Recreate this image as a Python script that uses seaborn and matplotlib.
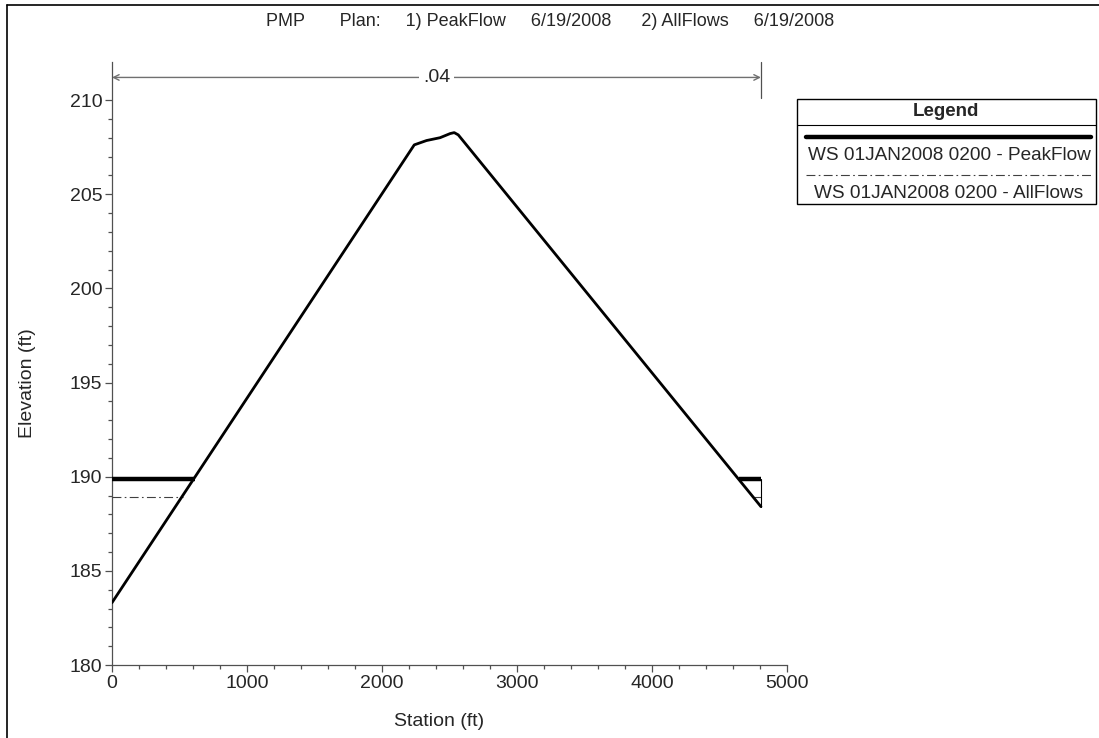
import matplotlib
matplotlib.use("Agg")
import matplotlib.pyplot as plt
from matplotlib.lines import Line2D
from matplotlib.patches import Rectangle
import seaborn as sns
import pandas as pd

# ground profile of the cross section
station = [0, 2239, 2330, 2430, 2505, 2535, 2565, 4807]
elevation = [183.31, 207.62, 207.85, 208.0, 208.22, 208.27, 208.15, 188.41]

# water surfaces (elevation and wetted station ranges)
ws_peak = 189.86
ws_peak_ranges = [(0, 615), (4643, 4807)]
ws_all = 188.92
ws_all_ranges = [(0, 527), (4750, 4807)]

n_value = ".04"
n_range = (0, 4807)

title = "PMP       Plan:     1) PeakFlow     6/19/2008      2) AllFlows     6/19/2008"
legend_labels = ["WS 01JAN2008 0200 - PeakFlow", "WS 01JAN2008 0200 - AllFlows"]

sns.set_style("ticks")
plt.rcParams["font.family"] = ["Liberation Sans", "DejaVu Sans"]

W, H = 1099, 738
fig = plt.figure(figsize=(W / 100, H / 100), dpi=100)
ax = fig.add_axes([112 / W, (H - 665) / H, 675 / W, (665 - 62) / H])

def px(x, y):
    return x / W, 1 - y / H

ground = pd.DataFrame({"Station": station, "Elevation": elevation})
sns.lineplot(data=ground, x="Station", y="Elevation", color="black", lw=2.0,
             ax=ax, sort=False, zorder=4)

for a, b in ws_peak_ranges:
    ax.plot([a, b], [ws_peak, ws_peak], color="black", lw=3.2, solid_capstyle="butt", zorder=5)
for a, b in ws_all_ranges:
    ax.plot([a, b], [ws_all, ws_all], color="#404040", lw=0.8, dashes=(8, 3, 1.5, 3), zorder=3)

# end wall of the section
ax.plot([station[-1], station[-1]], [elevation[-1], ws_peak], color="black", lw=0.8, zorder=3)

# Manning's n annotation
ax.annotate("", xy=(n_range[0], 211.2), xytext=(n_range[1], 211.2),
            arrowprops=dict(arrowstyle="<->", color="#707070", lw=1.0,
                            shrinkA=0, shrinkB=0, mutation_scale=10))
ax.text((n_range[0] + n_range[1]) / 2, 211.2, n_value, ha="center", va="center",
        fontsize=14, bbox=dict(facecolor="white", edgecolor="none", pad=3))
ax.plot([n_range[1], n_range[1]], [210.1, 212.0], color="#505050", lw=0.9, clip_on=False)

ax.set_xlim(0, 5000)
ax.set_ylim(180, 212.02)
ax.set_xticks(range(0, 5001, 1000))
ax.set_xticks(range(0, 5001, 200), minor=True)
ax.set_yticks(range(180, 211, 5))
ax.set_yticks(range(180, 211, 1), minor=True)
ax.tick_params(which="major", length=5, width=0.9, color="#505050", labelsize=14, pad=2)
ax.tick_params(which="minor", length=3, width=0.9, color="#505050")
sns.despine(ax=ax)
for s in ["left", "bottom"]:
    ax.spines[s].set_color("#505050")
    ax.spines[s].set_linewidth(0.9)

ax.set_xlabel("")
ax.set_ylabel("")
fig.text(*px(439, 721), "Station (ft)", ha="center", va="center", fontsize=14)
fig.text(*px(27, 383), "Elevation (ft)", ha="center", va="center", rotation=90, fontsize=14)
fig.text(*px(550, 22), title, ha="center", va="center", fontsize=13)

# outer frame (left and top edges visible)
fig.add_artist(Line2D([7 / W, 7 / W], [0, 1 - 5 / H], color="black", lw=1.2))
fig.add_artist(Line2D([7 / W, 1], [1 - 5 / H, 1 - 5 / H], color="black", lw=1.2))

# legend box
x0, y0 = px(797, 204)
x1, y1 = px(1096, 99)
fig.add_artist(Rectangle((x0, y0), x1 - x0, y1 - y0, transform=fig.transFigure,
                         facecolor="white", edgecolor="black", lw=1.0))
fig.add_artist(Line2D([x0, x1], [px(0, 125)[1]] * 2, color="black", lw=0.8))
fig.text(*px(946, 112), "Legend", ha="center", va="center", fontsize=13.5, fontweight="bold")
fig.add_artist(Line2D([px(806, 0)[0], px(1091, 0)[0]], [px(0, 137)[1]] * 2,
                      color="black", lw=3.2, solid_capstyle="round"))
fig.text(*px(949, 156), legend_labels[0], ha="center", va="center", fontsize=13.7)
fig.add_artist(Line2D([px(806, 0)[0], px(1091, 0)[0]], [px(0, 175)[1]] * 2,
                      color="#404040", lw=0.8, dashes=(8, 3, 1.5, 3)))
fig.text(*px(949, 193), legend_labels[1], ha="center", va="center", fontsize=13.7)

fig.savefig("out.png", dpi=100)
